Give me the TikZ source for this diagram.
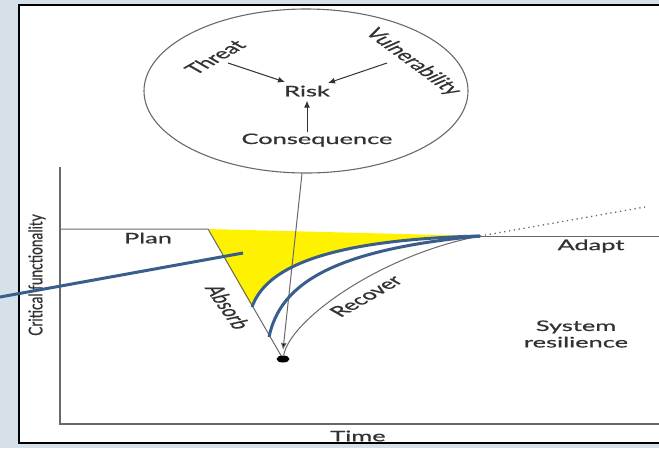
\documentclass[tikz,border=0pt]{standalone}
\usepackage{fontspec}
\setmainfont{Lato}[FakeBold=0.6]
\usetikzlibrary{shapes.geometric,arrows.meta}
\definecolor{bgc}{RGB}{214,224,233}
\definecolor{txt}{RGB}{50,50,50}
\definecolor{lin}{RGB}{105,105,105}
\definecolor{bluel}{RGB}{58,94,140}
\begin{document}
\begin{tikzpicture}[x=1pt,y=-1pt,
  lbl/.style={font=\fontsize{14.5}{17}\selectfont, text=txt, inner sep=0pt, transform shape},
  gline/.style={draw=lin, line width=1pt},
  axisln/.style={draw=lin, line width=1.6pt},
  arr/.style={draw=txt, line width=1pt, -{Latex[length=7pt,width=6pt]}},
  blueln/.style={draw=bluel, line width=3pt}]
\useasboundingbox (0,0) rectangle (659,448);
\fill[bgc] (0,0) rectangle (659,448);
\draw[fill=white, line width=2pt] (19,5) rectangle (675,443);

% coordinates
\coordinate (ytop) at (60,167);
\coordinate (orig) at (60,424);
\coordinate (xend) at (675,424);
\coordinate (plan0) at (60,229);
\coordinate (drop) at (208,229);
\coordinate (rec) at (480,236);
\coordinate (adaptend) at (675,236);
\coordinate (dotend) at (645,207);
\coordinate (c1) at (252,307);
\coordinate (c2) at (269,337);
\coordinate (tip) at (283,350);
\coordinate (bl0) at (0,297);
\coordinate (bl1) at (243,253);

% yellow area
\fill[yellow] (drop) -- (rec) .. controls (320,240) and (265,270) .. (c1) -- cycle;

% axes
\draw[axisln] (ytop) -- (orig) -- (xend);

% risk ellipse
\node[draw=lin, line width=1.1pt, ellipse, minimum width=324pt, minimum height=164pt, inner sep=0pt] (circ) at (306,91) {};

% texts
\begin{scope}[shift={(307,91)}, xscale=1.75]
  \node[lbl] (risk) at (0,0) {Risk};
\end{scope}
\begin{scope}[shift={(317,140)}, xscale=1.75]
  \node[lbl] (cons) at (0,0) {Consequence};
\end{scope}
\begin{scope}[shift={(215,57)}, xscale=1.75, rotate=45]
  \node[lbl] (threat) at (0,0) {Threat};
\end{scope}
\begin{scope}[shift={(413,62)}, xscale=1.75, rotate=-52]
  \node[lbl] (vuln) at (0,0) {Vulnerability};
\end{scope}
\begin{scope}[shift={(148,238)}, xscale=1.75]
  \node[lbl] (plan) at (0,0) {Plan};
\end{scope}
\begin{scope}[shift={(591,246)}, xscale=1.75]
  \node[lbl] (adapt) at (0,0) {Adapt};
\end{scope}
\begin{scope}[shift={(576,334)}, xscale=1.75]
  \node[lbl, align=center, font=\fontsize{14.5}{16.5}\selectfont] (sysres) at (0,0) {System\\resilience};
\end{scope}
\begin{scope}[shift={(358,436)}, xscale=1.75]
  \node[lbl] (time) at (0,0) {Time};
\end{scope}
\begin{scope}[shift={(228,307)}, xscale=1.75, rotate=-68]
  \node[lbl] (absorb) at (0,0) {Absorb};
\end{scope}
\begin{scope}[shift={(366,296)}, xscale=1.75, rotate=45]
  \node[lbl] (recover) at (0,0) {Recover};
\end{scope}
\begin{scope}[shift={(37,275)}, yscale=0.72, rotate=90]
  \node[font=\fontsize{19}{22}\selectfont, text=txt, inner sep=0pt, transform shape] (crit) at (0,0) {Critical functionality};
\end{scope}

% arrows inside circle
\coordinate (ta) at (228,63);
\coordinate (va) at (387,63);
\draw[arr] (ta) -- (285,82);
\draw[arr] (va) -- (328,83);
\draw[arr] (cons.north -| risk.south) ++(0,-1) -- ([yshift=-4pt]risk.south);

% curve lines
\draw[gline] (plan0) -- (drop) -- (283,359);
\draw[gline] (rec) -- (adaptend);
\draw[draw=lin, line width=1.3pt, dash pattern=on 1.3pt off 3.6pt] (rec) -- (dotend);
\node[ellipse, fill=black, minimum width=13pt, minimum height=7pt, inner sep=0pt] (dot) at (283,359) {};
\draw[gline] (dot) .. controls (290,320) and (380,255) .. (rec);
\draw[gline, -{Latex[length=7pt,width=6pt,fill=black]}] ([xshift=-4pt]circ.south) -- (tip);

% blue curves
\draw[blueln] (c1) .. controls (265,270) and (320,240) .. (rec);
\draw[blueln] (c2) .. controls (280,285) and (330,250) .. (rec);
\draw[blueln] (bl0) -- (bl1);
\end{tikzpicture}
\end{document}
